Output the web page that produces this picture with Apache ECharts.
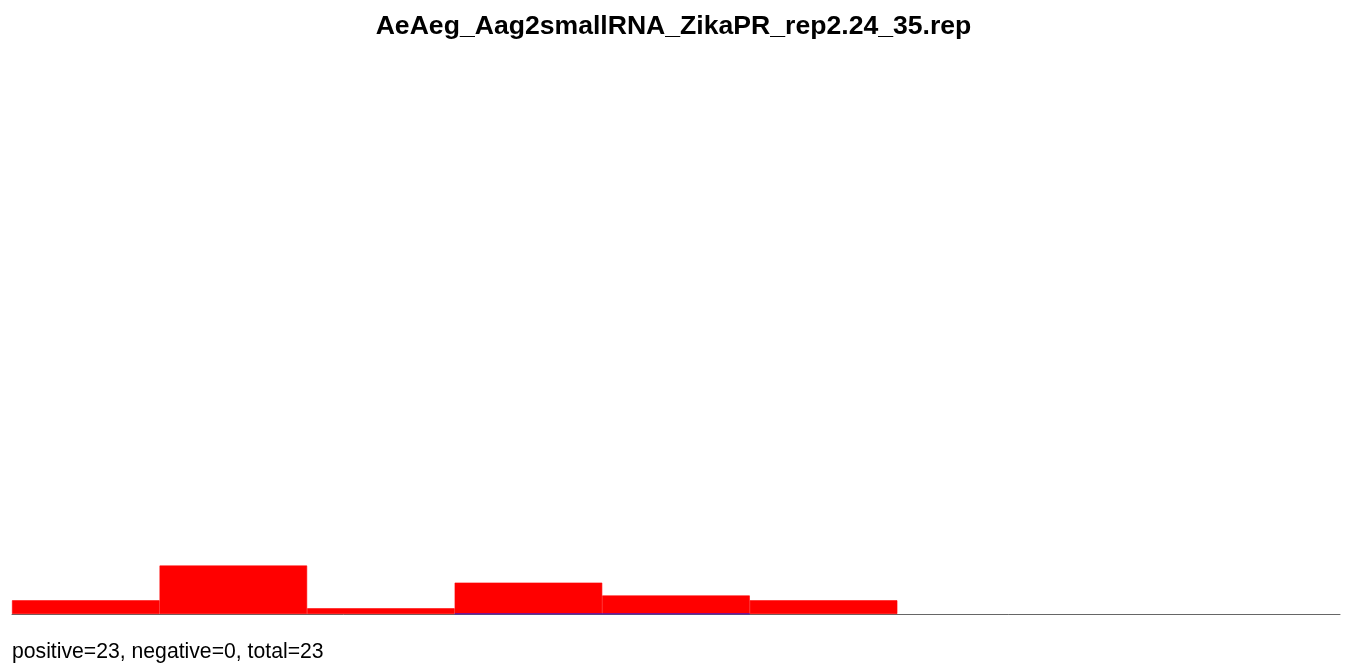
<!DOCTYPE html>
<html>
<head>
<meta charset="utf-8">
<script src="https://cdn.jsdelivr.net/npm/echarts@6/dist/echarts.min.js"></script>
<style>
html, body { margin: 0; padding: 0; background: #fff; }
#chart { width: 1347px; height: 666px; }
</style>
</head>
<body>
<div id="chart"></div>
<script>
// 数据
var titleText = 'AeAeg_Aag2smallRNA_ZikaPR_rep2.24_35.rep';
var footerText = 'positive=23, negative=0, total=23';
var categories = ['24', '25', '26', '27', '28', '29', '30', '31', '32'];
var positiveValues = [2.4, 8.5, 1, 5.5, 3.25, 2.4, 0, 0, 0];
// 负链：只有零值，画成底部蓝线
var negativeLine = [[3, 0], [5, 0]];

var chart = echarts.init(document.getElementById('chart'));

var option = {
    animation: false,
    title: {
        text: titleText,
        left: 'center',
        top: 8,
        textStyle: {
            fontFamily: 'Liberation Sans, Arial, sans-serif',
            fontSize: 26.6,
            fontWeight: 'bold',
            color: '#000'
        }
    },
    graphic: [{
        type: 'text',
        left: 12,
        top: 642,
        style: {
            text: footerText,
            font: '21.2px "Liberation Sans", Arial, sans-serif',
            fill: '#000'
        }
    }],
    grid: {
        left: 12,
        right: 7,
        top: 44,
        bottom: 52
    },
    xAxis: [
        {
            type: 'category',
            data: categories,
            axisLine: { show: true, lineStyle: { color: '#666', width: 1 } },
            axisTick: { show: false },
            axisLabel: { show: false }
        },
        {
            type: 'value',
            min: 0,
            max: 9,
            show: false
        }
    ],
    yAxis: {
        type: 'value',
        min: 0,
        max: 100,
        show: false,
        splitLine: { show: false }
    },
    series: [
        {
            name: 'positive',
            type: 'bar',
            xAxisIndex: 0,
            barCategoryGap: '0%',
            itemStyle: { color: '#ff0000', borderColor: '#ff0000', borderWidth: 0.6 },
            // 空的 bin 不画
            data: positiveValues.map(function (v) { return v > 0 ? v : '-'; })
        },
        {
            name: 'negative',
            type: 'line',
            xAxisIndex: 1,
            symbol: 'none',
            z: 5,
            lineStyle: { color: '#0000ff', width: 1 },
            data: negativeLine
        }
    ]
};

chart.setOption(option);
</script>
</body>
</html>
